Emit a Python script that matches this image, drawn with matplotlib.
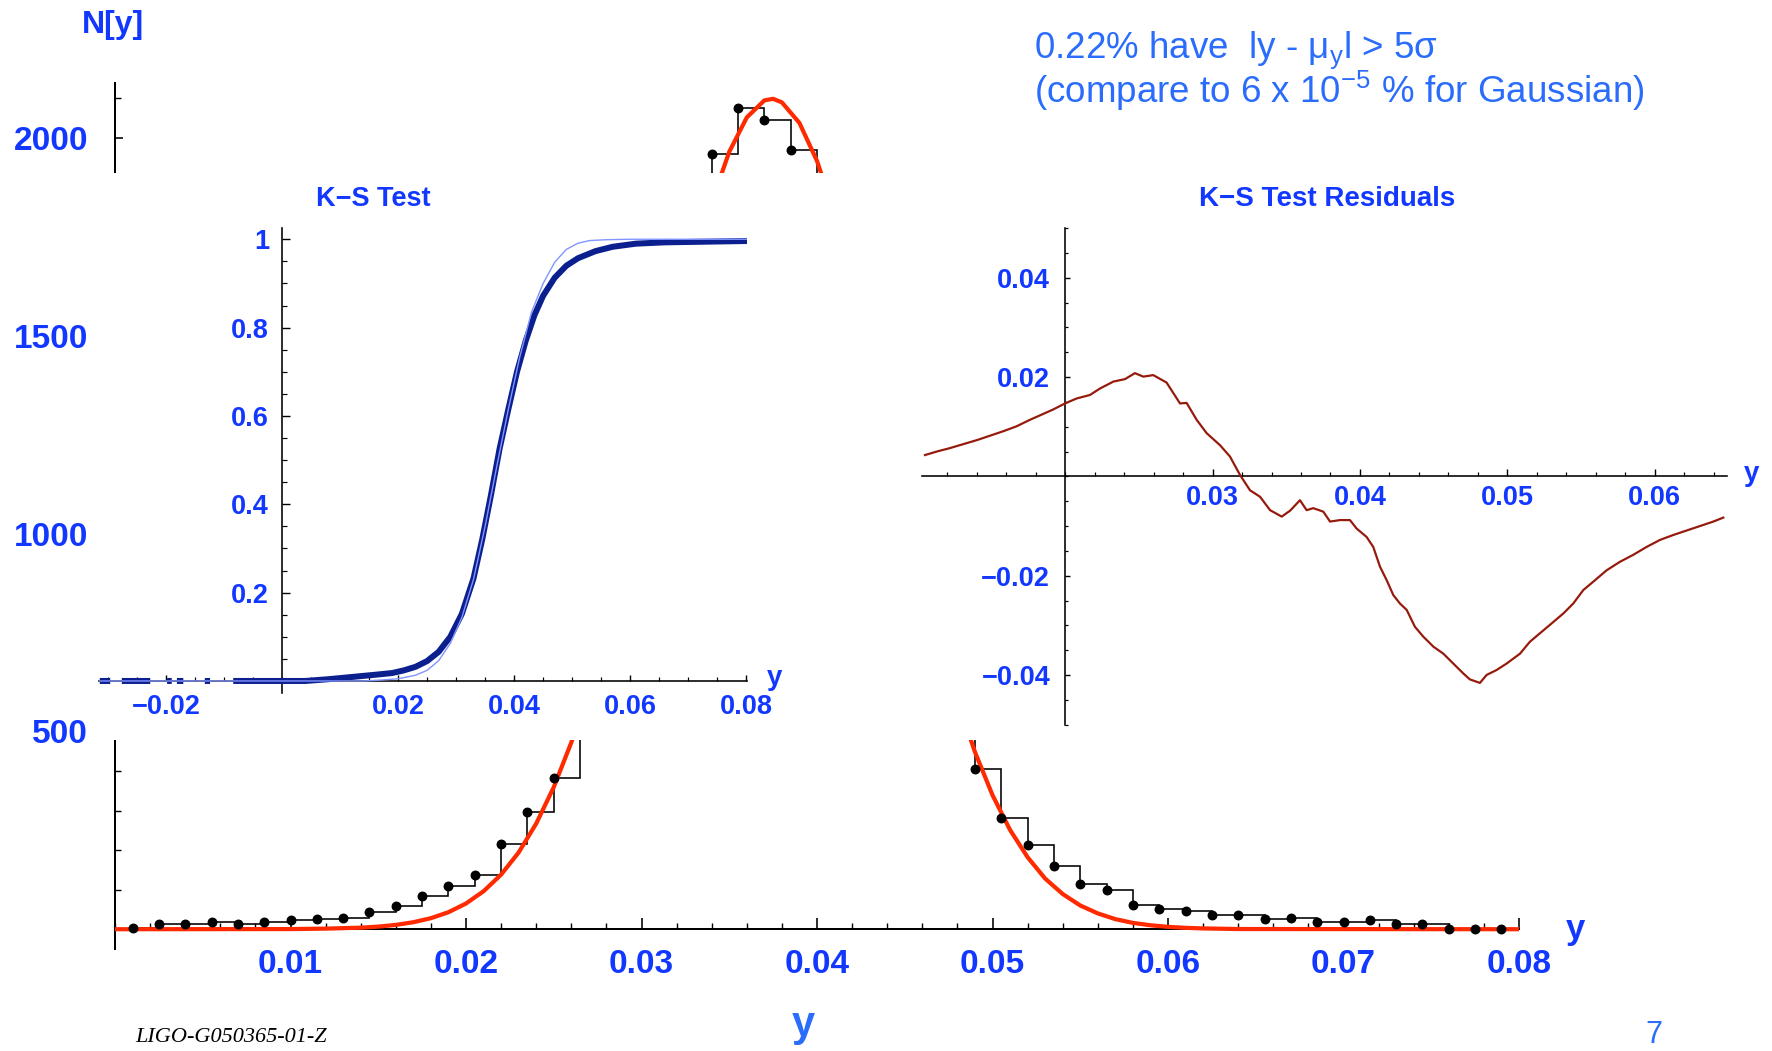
import numpy as np
import matplotlib
matplotlib.use("Agg")
import matplotlib.pyplot as plt
from matplotlib.patches import Rectangle
from matplotlib.ticker import MultipleLocator

# ---------------- data ----------------
# main histogram of y (bins start at hist_bin_start, width hist_bin_width)
hist_bin_start = 0.001
hist_bin_width = 0.0015
hist_counts = [2, 13, 13, 19, 12, 19, 23, 25, 29, 43, 58, 83, 110, 136, 215, 296, 382,
               540, 780, 1080, 1420, 1720, 1959, 2076, 2045, 1970, 1800, 1560, 1280, 990,
               740, 540, 404, 282, 213, 161, 115, 100, 61, 52, 47, 36, 36, 27, 29, 17, 17,
               23, 13, 13, 1, 1, 1]

# Gaussian fit curve
fit_x = [0.0, 0.010, 0.012, 0.014, 0.015, 0.016, 0.017, 0.018, 0.019, 0.020, 0.021, 0.022,
         0.023, 0.024, 0.025, 0.026, 0.027, 0.028, 0.029, 0.030, 0.031, 0.032, 0.033, 0.034,
         0.035, 0.036, 0.037, 0.0375, 0.038, 0.039, 0.040, 0.041, 0.042, 0.043, 0.044, 0.045,
         0.046, 0.047, 0.048, 0.049, 0.050, 0.051, 0.052, 0.053, 0.054, 0.055, 0.056, 0.057,
         0.058, 0.059, 0.060, 0.061, 0.062, 0.064, 0.080]
fit_y = [0, 0.4, 1.5, 3.9, 6.6, 10.9, 17.7, 27.9, 43, 65, 96, 138, 194, 267, 359, 472, 606,
         762, 934, 1120, 1312, 1502, 1681, 1838, 1965, 2052, 2095, 2099, 2090, 2038, 1942,
         1809, 1646, 1465, 1273, 1082, 898, 729, 578, 448, 339, 251, 182, 128, 89, 60, 40,
         25.5, 16, 10, 6, 3.5, 2, 0.5, 0]

main_xticks = [0.01, 0.02, 0.03, 0.04, 0.05, 0.06, 0.07, 0.08]
main_xlabels = ["0.01", "0.02", "0.03", "0.04", "0.05", "0.06", "0.07", "0.08"]
main_yticks = [500, 1000, 1500, 2000]
main_ylabels = ["500", "1000", "1500", "2000"]

# K-S test: empirical CDF (thick navy, NaN = gaps) and Gaussian CDF (thin light blue)
nan = np.nan
ks_emp_x = [-0.0314, -0.0296, nan, -0.0276, -0.0227, nan, -0.0198, -0.0190, nan,
            -0.0181, -0.0170, nan, -0.0133, -0.0124, nan,
            -0.0084, 0.004, 0.008, 0.012, 0.016, 0.019, 0.021, 0.023, 0.025, 0.027, 0.029,
            0.031, 0.033, 0.0345, 0.036, 0.0375, 0.039, 0.0405, 0.042, 0.0435, 0.045, 0.047,
            0.049, 0.051, 0.054, 0.057, 0.061, 0.066, 0.0802]
ks_emp_y = [0, 0, nan, 0, 0, nan, 0, 0, nan, 0, 0, nan, 0, 0, nan,
            0, 0.0, 0.004, 0.009, 0.014, 0.018, 0.024, 0.032, 0.045, 0.066, 0.10,
            0.152, 0.232, 0.32, 0.42, 0.526, 0.615, 0.70, 0.77, 0.828, 0.872, 0.913,
            0.94, 0.957, 0.973, 0.983, 0.99, 0.993, 0.996]
ks_gauss_x = [-0.0316, 0.014, 0.017, 0.020, 0.023, 0.025, 0.027, 0.029, 0.031, 0.033, 0.035,
              0.037, 0.039, 0.041, 0.043, 0.045, 0.047, 0.049, 0.051, 0.053, 0.056, 0.060, 0.0802]
ks_gauss_y = [0, 0, 0.002, 0.005, 0.013, 0.024, 0.046, 0.085, 0.144, 0.23, 0.35, 0.485, 0.615,
              0.735, 0.835, 0.9, 0.948, 0.977, 0.991, 0.997, 0.999, 1.0, 1.0]
ks_xticks = [-0.02, 0.02, 0.04, 0.06, 0.08]
ks_xlabels = ["\u22120.02", "0.02", "0.04", "0.06", "0.08"]
ks_yticks = [0.2, 0.4, 0.6, 0.8, 1.0]
ks_ylabels = ["0.2", "0.4", "0.6", "0.8", "1"]

# K-S residuals
res_x = [0.01049, 0.01128, 0.01218, 0.01309, 0.0140, 0.0149, 0.0158, 0.01671, 0.01761,
         0.01852, 0.0192, 0.01999, 0.02078, 0.02168, 0.02236, 0.02327, 0.02406, 0.02473,
         0.0253, 0.02598, 0.02688, 0.02779, 0.02824, 0.02892, 0.0296, 0.0305, 0.03118,
         0.03186, 0.03254, 0.03322, 0.0339, 0.03469, 0.03526, 0.03593, 0.03638, 0.03683,
         0.03751, 0.03797, 0.03864, 0.03932, 0.03977, 0.04045, 0.0409, 0.04136, 0.04181,
         0.04226, 0.04271, 0.04317, 0.04373, 0.0443, 0.04498, 0.04565, 0.04633, 0.04701,
         0.04746, 0.04814, 0.04859, 0.04927, 0.04995, 0.05086, 0.05153, 0.05221, 0.05289,
         0.0538, 0.05447, 0.05515, 0.05583, 0.05674, 0.05764, 0.05854, 0.05945, 0.06035,
         0.06126, 0.06216, 0.06307, 0.06397, 0.06465]
res_y = [0.0043, 0.0050, 0.0057, 0.0065, 0.0073, 0.0082, 0.0091, 0.0101, 0.0114, 0.0126,
         0.0135, 0.0147, 0.0157, 0.0164, 0.0177, 0.0191, 0.0196, 0.0208, 0.0201, 0.0204,
         0.0189, 0.0147, 0.0148, 0.0114, 0.0087, 0.0063, 0.0040, 0.0003, -0.0028, -0.0041,
         -0.0068, -0.0081, -0.0069, -0.0048, -0.0068, -0.0064, -0.0071, -0.0091, -0.0088,
         -0.0088, -0.0105, -0.0122, -0.0142, -0.0182, -0.0209, -0.0239, -0.0256, -0.0269,
         -0.0303, -0.0323, -0.0343, -0.0357, -0.0377, -0.0397, -0.0409, -0.0416, -0.0400,
         -0.0390, -0.0377, -0.0357, -0.0333, -0.0316, -0.0299, -0.0276, -0.0256, -0.0229,
         -0.0212, -0.0189, -0.0172, -0.0158, -0.0142, -0.0128, -0.0118, -0.0109, -0.0100,
         -0.0091, -0.0083]
res_xticks = [0.03, 0.04, 0.05, 0.06]
res_xlabels = ["0.03", "0.04", "0.05", "0.06"]
res_yticks = [-0.04, -0.02, 0.02, 0.04]
res_ylabels = ["\u22120.04", "\u22120.02", "0.02", "0.04"]

# ---------------- styling ----------------
W, H = 1772, 1051
LABEL_BLUE = "#1238ff"
SLIDE_BLUE = "#2a6cfb"
BOLD_FONT = ["Liberation Sans Narrow", "Liberation Sans", "DejaVu Sans"]
plt.rcParams["font.family"] = ["Liberation Sans", "DejaVu Sans"]
plt.rcParams["mathtext.fontset"] = "custom"
plt.rcParams["mathtext.rm"] = "Liberation Sans"
plt.rcParams["mathtext.it"] = "Liberation Sans:italic"


def px(v):
    return v * 0.72


def rect(l, t, r, b):
    return [l / W, 1 - b / H, (r - l) / W, (b - t) / H]


def setup_axes(ax, xaxis_at, yaxis_at, lw):
    for s in ("top", "right"):
        ax.spines[s].set_visible(False)
    ax.spines["bottom"].set_position(("data", xaxis_at))
    ax.spines["left"].set_position(("data", yaxis_at))
    for s in ("bottom", "left"):
        ax.spines[s].set_linewidth(lw)
        ax.spines[s].set_color("black")
    ax.patch.set_visible(False)


lab_kw = dict(fontweight="bold", family=BOLD_FONT, color=LABEL_BLUE)

fig = plt.figure(figsize=(W / 100, H / 100), dpi=100)

# ---------------- main histogram ----------------
ax = fig.add_axes(rect(115, 82.6, 1519, 949))
ax.set_zorder(0)
ax.set_xlim(0, 0.08)
ax.set_ylim(-50, 2140)
setup_axes(ax, 0, 0, px(2))
edges = hist_bin_start + hist_bin_width * np.arange(len(hist_counts) + 1)
ax.stairs(hist_counts, edges, baseline=None, color="black", lw=px(1.6), zorder=3)
ax.plot(fit_x, fit_y, color="#ff2a00", lw=px(4.2), zorder=4, solid_capstyle="butt")
ax.plot(edges[:-1], hist_counts, "o", color="black", ms=px(8.5), zorder=5, clip_on=False)
ax.set_xticks(main_xticks, main_xlabels, fontsize=24, **lab_kw)
ax.set_yticks(main_yticks, main_ylabels, fontsize=24, **lab_kw)
ax.xaxis.set_minor_locator(MultipleLocator(0.002))
ax.yaxis.set_minor_locator(MultipleLocator(100))
ax.tick_params(axis="x", which="major", direction="in", length=px(11), width=px(1.6), pad=px(20))
ax.tick_params(axis="x", which="minor", direction="in", length=px(6.5), width=px(1.4))
ax.tick_params(axis="y", which="major", direction="in", length=px(8), width=px(1.6), pad=px(27))
ax.tick_params(axis="y", which="minor", direction="in", length=px(6), width=px(1.4))

# white band where the two inset pictures sit
fig.add_artist(Rectangle((96 / W, 1 - 740 / H), (W - 96) / W, (740 - 173) / H,
                         transform=fig.transFigure, facecolor="white",
                         edgecolor="none", zorder=1))

# ---------------- K-S test inset ----------------
ax2 = fig.add_axes(rect(98.6, 228.2, 747.4, 692.9))
ax2.set_zorder(2)
ax2.set_xlim(-0.0316, 0.0802)
ax2.set_ylim(-0.027, 1.025)
setup_axes(ax2, 0, 0, px(1.6))
ax2.plot(ks_emp_x, ks_emp_y, color="#0c1f8f", lw=px(6), zorder=3, solid_capstyle="butt")
ax2.plot(ks_gauss_x, ks_gauss_y, color="#8395ff", lw=px(1.4), zorder=4)
ax2.set_xticks(ks_xticks, ks_xlabels, fontsize=19.5, **lab_kw)
ax2.set_yticks(ks_yticks, ks_ylabels, fontsize=19.5, **lab_kw)
ax2.xaxis.set_minor_locator(MultipleLocator(0.005))
ax2.yaxis.set_minor_locator(MultipleLocator(0.05))
ax2.tick_params(axis="x", which="major", direction="in", length=px(6), width=px(1.4), pad=px(13))
ax2.tick_params(axis="x", which="minor", direction="in", length=px(4), width=px(1.2))
ax2.tick_params(axis="y", which="major", direction="in", length=px(7.5), width=px(1.4), pad=px(13))
ax2.tick_params(axis="y", which="minor", direction="in", length=px(4.5), width=px(1.2))

# ---------------- residual inset ----------------
ax3 = fig.add_axes(rect(922.2, 228.2, 1727, 724.6))
ax3.set_zorder(2)
ax3.set_xlim(0.0103, 0.0649)
ax3.set_ylim(-0.05, 0.05)
setup_axes(ax3, 0, 0.02, px(1.6))
ax3.plot(res_x, res_y, color="#961a0c", lw=px(2.2), zorder=3)
ax3.set_xticks(res_xticks, res_xlabels, fontsize=19.5, **lab_kw)
ax3.set_yticks(res_yticks, res_ylabels, fontsize=19.5, **lab_kw)
ax3.xaxis.set_minor_locator(MultipleLocator(0.002))
ax3.yaxis.set_minor_locator(MultipleLocator(0.005))
ax3.tick_params(axis="x", which="major", direction="in", length=px(7), width=px(1.4), pad=px(9))
ax3.tick_params(axis="x", which="minor", direction="in", length=px(4), width=px(1.2))
ax3.tick_params(axis="y", which="major", direction="in", length=px(5), width=px(1.4), pad=px(15))
ax3.tick_params(axis="y", which="minor", direction="in", length=px(3), width=px(1.2))


# ---------------- texts ----------------
def ftext(x, y, s, **kw):
    return fig.text(x / W, 1 - y / H, s, **kw)


ftext(373, 199, "K\u2212S Test", ha="center", va="center", fontsize=19.5, **lab_kw)
ftext(1327, 199, "K\u2212S Test Residuals", ha="center", va="center", fontsize=20, **lab_kw)
ftext(113, 25, "N[y]", ha="center", va="center", fontsize=23, **lab_kw)
ftext(1575, 930, "y", ha="center", va="center", fontsize=25, **lab_kw)
ftext(775, 678, "y", ha="center", va="center", fontsize=20, **lab_kw)
ftext(1752, 474, "y", ha="center", va="center", fontsize=20, **lab_kw)

ftext(1034, 58, r"0.22% have  ly - μ$_\mathrm{y}$l > 5σ", ha="left", va="baseline",
      fontsize=26.5, color=SLIDE_BLUE)
ftext(1034, 103, r"(compare to 6 x 10$^{\mathrm{-5}}$ % for Gaussian)", ha="left",
      va="baseline", fontsize=26.5, color=SLIDE_BLUE)

ftext(803, 1036, "y", ha="center", va="baseline", fontsize=30, fontweight="bold",
      color=SLIDE_BLUE)
ftext(135, 1028, "LIGO-G050365-01-Z", ha="left", va="top", fontsize=16,
      family="Liberation Serif", style="italic", color="black")
ftext(1645, 1020, "7", ha="left", va="top", fontsize=22, color=SLIDE_BLUE)

fig.savefig("out.png", dpi=100)
